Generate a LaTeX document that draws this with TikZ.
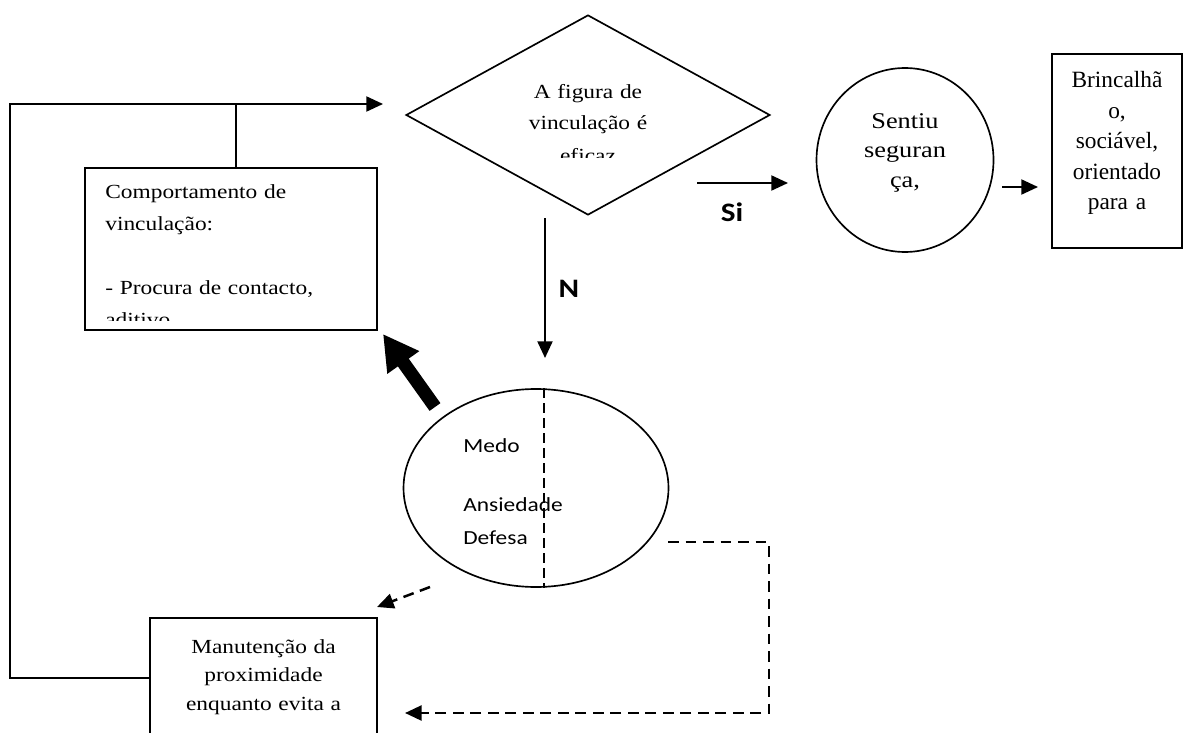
\documentclass[tikz,border=0pt]{standalone}
\usepackage{fontspec}
\setmainfont{Liberation Serif}[FakeStretch=1.17]
\newfontfamily\plainser{Liberation Serif}
\newfontfamily\calib{Carlito}[FakeStretch=1.17]
\usetikzlibrary{arrows.meta,shapes.geometric}

\begin{document}
\begin{tikzpicture}[x=0.6pt,y=-0.6pt,
    shp/.style={draw,line width=1pt,inner sep=0pt},
    txt/.style={inner sep=0pt,anchor=base,text width=#1,align=center},
    ln/.style={line width=1.2pt,-{Triangle[length=10pt,width=9pt]}},
    dsh/.style={line width=1.5pt,dash pattern=on 6.5pt off 4pt},
    lbl/.style={font=\calib\fontsize{16pt}{18pt}\selectfont\bfseries,inner sep=0pt,anchor=base}]
    \useasboundingbox (0,0) rectangle (1189,733);
    \node[shp,diamond,minimum width=218.4pt,minimum height=120pt] (vinc) at (588,115) {};
    \node[shp,ellipse,minimum width=106.2pt,minimum height=110.4pt] (segur) at (905,160) {};
    \node[shp,minimum width=78pt,minimum height=116.4pt] (brinc) at (1117,151) {};
    \node[shp,minimum width=175.2pt,minimum height=97.2pt] (comport) at (231,249) {};
    \node[shp,ellipse,minimum width=159pt,minimum height=118.8pt] (medo) at (536,488) {};
    \node[shp,minimum width=136.2pt,minimum height=85.2pt] (manut) at (263.5,689) {};
    \begin{scope}
        \clip (470,20) rectangle (710,157);
        \node[txt=100pt,font=\fontsize{12pt}{19.2pt}\selectfont] (vinct) at (588,98) {A figura de\\vinculação é\\eficaz};
    \end{scope}
    \node[txt=90pt,font=\fontsize{13.5pt}{17.7pt}\selectfont] (segurt) at (905,128) {Sentiu\\seguran\\ça,};
    \node[txt=74pt,font=\plainser\fontsize{14pt}{18.3pt}\selectfont] (brinct) at (1117,88) {Brincalhã\\o,\\sociável,\\orientado\\para a};
    \begin{scope}
        \clip (comport.north west) rectangle (377,320);
        \node[txt=160pt,align=left,anchor=base west,font=\fontsize{12pt}{19.2pt}\selectfont] (comportt) at (105,198) {Comportamento de\\vinculação:\\\mbox{}\\- Procura de contacto,\\aditivo};
    \end{scope}
    \node[txt=80pt,align=left,anchor=base west,font=\calib\fontsize{12pt}{19.8pt}\selectfont] (medot) at (463,452) {Medo\\[16pt]Ansiedade\\Defesa};
    \node[txt=130pt,font=\fontsize{12pt}{17.1pt}\selectfont] (manutt) at (263.5,653) {Manutenção da\\proximidade\\enquanto evita a};
    \node[lbl] (si) at (732,221) {Si};
    \node[lbl] (n) at (569,297) {N};
    \coordinate (fb) at (383,104);
    \coordinate (lc) at (10,678);
    \coordinate (tap) at (236,104);
    \coordinate (split) at (544,488);
    \draw[ln] (manut.west |- lc) -- (lc) |- (fb);
    \draw[line width=1.2pt] (tap) -- (tap |- comport.north);
    \draw[ln] (697,183) coordinate (si0) -- (788,183) coordinate (si1);
    \draw[ln] (1002,187) coordinate (sg0) -- (1038,187) coordinate (sg1);
    \draw[ln] (545,218) coordinate (n0) -- (545,358) coordinate (n1);
    \draw[line width=8pt,-{Triangle[length=21pt,width=22pt]}] (435,407) coordinate (th0) -- (383,334) coordinate (th1);
    \draw[line width=1pt,dash pattern=on 6pt off 3pt] (split |- medo.north) -- (split |- medo.south);
    \draw[ln,dsh] (430,587) coordinate (d0) -- (377,607) coordinate (d1);
    \draw[ln,dsh] (668,542) coordinate (e0) -| (769,713) -- (405,713) coordinate (e1);
\end{tikzpicture}
\end{document}
